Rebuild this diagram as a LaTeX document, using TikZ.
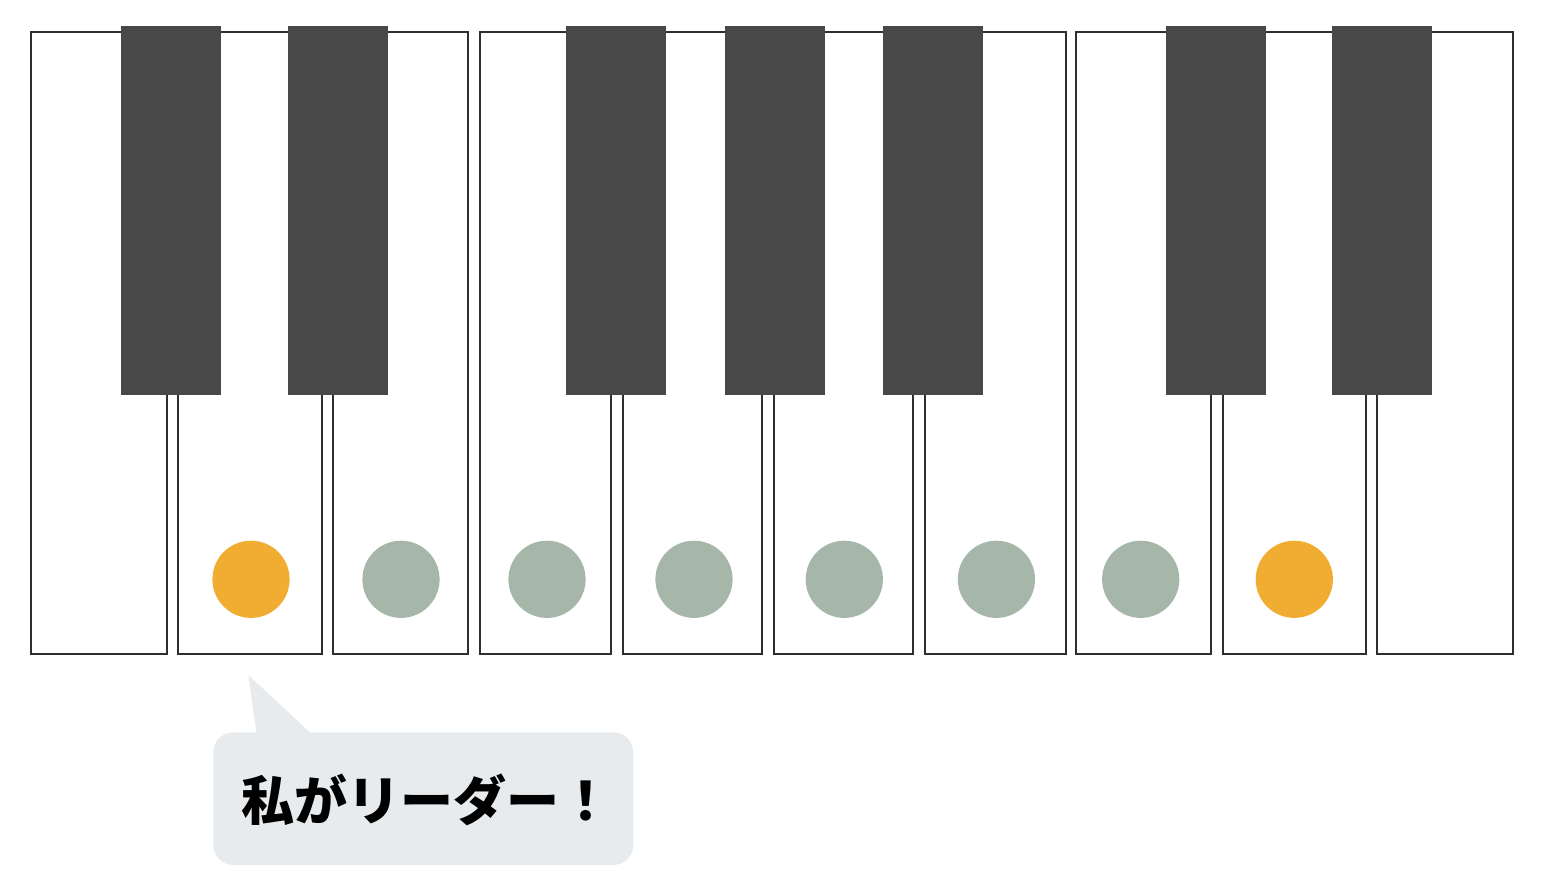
\documentclass[tikz,border=0pt]{standalone}
\usepackage{fontspec}
\newfontfamily\cjk{Noto Sans CJK JP}
\definecolor{keyblack}{HTML}{484848}
\definecolor{keyline}{HTML}{2E2E2E}
\definecolor{leadorange}{HTML}{F1AC32}
\definecolor{notegreen}{HTML}{A6B6A8}
\definecolor{bubblegray}{HTML}{E8EBEE}
\tikzset{
  whitekey/.style={draw=keyline, line width=2pt, fill=white},
  blackkey/.style={fill=keyblack, draw=none},
  leaddot/.style={fill=leadorange, draw=none},
  notedot/.style={fill=notegreen, draw=none},
  bubble/.style={fill=bubblegray, draw=none},
}
\begin{document}
\begin{tikzpicture}[x=1pt,y=-1pt]
\useasboundingbox (0,0) rectangle (1550,890);
% white keys
\foreach \l/\r in {31/166.7, 178.3/321.7, 332.7/468.3, 479.7/611.2, 622.9/762.2, 773.9/913.1, 924.8/1066.4, 1075.7/1211, 1222.7/1365.7, 1377/1512.7}
  \draw[whitekey] (\l,32.3) rectangle (\r,654);
% black keys
\foreach \l/\r in {121.3/221.3, 287.7/387.7, 566/666, 724.8/824.8, 883.2/983.2, 1165.7/1265.7, 1332/1432}
  \fill[blackkey] (\l,25.7) rectangle (\r,395);
% dots
\foreach \x in {251, 1294.3}
  \fill[leaddot] (\x,579.3) circle (38.6);
\foreach \x in {401, 547, 694, 844.3, 996.4, 1140.7}
  \fill[notedot] (\x,579.3) circle (38.6);
% speech bubble
\fill[bubble] (256.7,734) -- (248.3,675) -- (311.7,734) -- cycle;
\fill[bubble, rounded corners=20pt] (213.3,732.3) rectangle (633.3,865);
\node[anchor=base west, inner sep=0pt, font=\cjk\bfseries\fontsize{53}{60}\selectfont] (label) at (241.5,820) {私がリーダー！};
\end{tikzpicture}
\end{document}
